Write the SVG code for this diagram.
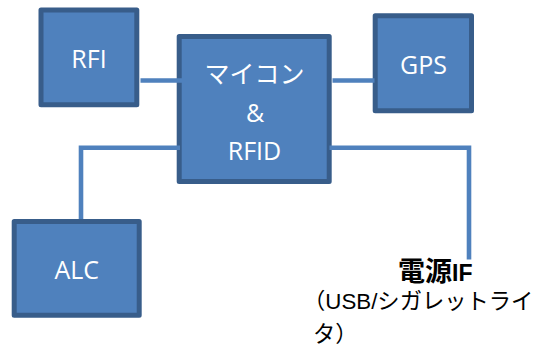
<svg xmlns="http://www.w3.org/2000/svg" width="539" height="352" viewBox="0 0 539 352">
<style>
.box{fill:#4f81bd;stroke:#385d8a;stroke-width:5;stroke-linejoin:round}
.lbl{fill:#ffffff;font-family:"Open Sans","Noto Sans CJK JP",sans-serif;font-size:25px;text-anchor:middle}
.conn{stroke:#4f81bd;stroke-width:4.6;fill:none}
.note{fill:#000000;font-family:"Liberation Sans","Noto Sans CJK JP",sans-serif}
</style>
<rect width="539" height="352" fill="#ffffff"/>
<g id="node-rfi">
<rect class="box" x="41" y="10" width="95.8" height="94.8"/>
<text class="lbl" x="89" y="68">RFI</text>
</g>
<g id="node-main">
<rect class="box" x="179.2" y="36.5" width="150" height="145"/>
<text class="lbl" x="254.5" y="83" font-size="26">マイコン</text>
<text class="lbl" x="255" y="122">&amp;</text>
<text class="lbl" x="254.5" y="160">RFID</text>
</g>
<g id="node-gps">
<rect class="box" x="375.2" y="15.8" width="96.3" height="95"/>
<text class="lbl" x="423.5" y="74">GPS</text>
</g>
<g id="node-alc">
<rect class="box" x="14.2" y="221.5" width="125" height="93.7"/>
<text class="lbl" x="76.7" y="279">ALC</text>
</g>
<g id="node-power">
<text class="note" x="398" y="281"><tspan font-size="27" font-weight="bold" font-family="Noto Sans CJK JP, sans-serif">電源</tspan><tspan font-size="23" font-weight="bold">IF</tspan></text>
<text class="note" x="303" y="309" font-size="22.3">（USB/シガレットライ</text>
<text class="note" x="313" y="342" font-size="22.3">タ）</text>
</g>
<g id="connectors">
<line class="conn" x1="140.5" y1="80.5" x2="182" y2="80.5"/>
<line class="conn" x1="332.5" y1="80.5" x2="374.5" y2="80.5"/>
<polyline class="conn" points="180,147.8 81,147.8 81,219"/>
<polyline class="conn" points="329.5,147.8 469,147.8 469,259.5"/>
</g>
</svg>
